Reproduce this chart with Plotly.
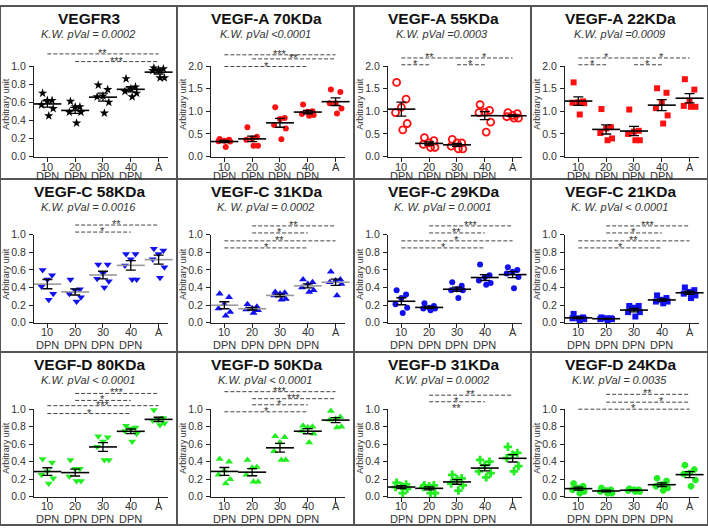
import numpy as np
import plotly.graph_objects as go

# ---------------- data ----------------
group_labels = ["10", "20", "30", "40", "A"]
group_sublabels = ["DPN", "DPN", "DPN", "DPN", ""]

titles = ["VEGFR3", "VEGF-A 70KDa", "VEGF-A 55KDa", "VEGF-A 22KDa",
          "VEGF-C 58KDa", "VEGF-C 31KDa", "VEGF-C 29KDa", "VEGF-C 21KDa",
          "VEGF-D 80KDa", "VEGF-D 50KDa", "VEGF-D 31KDa", "VEGF-D 24KDa"]
pval_texts = ["K.W. pVal = 0.0002", "K.W. pVal <0.0001", "K.W. pVal =0.0003", "K.W. pVal =0.0009",
              "K.W. pVal = 0.0016", "K. W. pVal = 0.0002", "K. W. pVal = 0.0001", "K. W. pVal < 0.0001",
              "K.W. pVal < 0.0001", "K.W. pVal < 0.0001", "K.W. pVal = 0.0002", "K.W. pVal = 0.0035"]
y_top_tick = [1.0, 2.0, 2.0, 2.0, 1.0, 1.0, 1.0, 1.0, 1.0, 1.0, 1.0, 1.0]

vegfr3 = [[0.62, 0.70, 0.62, 0.53, 0.45, 0.57],
          [0.55, 0.61, 0.55, 0.49, 0.49, 0.37],
          [0.74, 0.79, 0.67, 0.60, 0.48, 0.66],
          [0.86, 0.77, 0.75, 0.72, 0.70, 0.66],
          [0.98, 0.97, 0.96, 0.95, 0.87, 0.87]]
vegfa_70 = [[0.37, 0.35, 0.39, 0.21, 0.33, 0.34],
            [0.65, 0.40, 0.44, 0.37, 0.24, 0.24],
            [1.09, 0.85, 0.83, 0.70, 0.62, 0.38],
            [1.15, 1.00, 0.94, 0.92, 0.90, 0.99],
            [1.48, 1.43, 1.18, 1.18, 1.06, 0.95]]
vegfa_55 = [[1.64, 1.27, 1.09, 0.97, 0.73, 0.59],
            [0.42, 0.35, 0.30, 0.27, 0.20, 0.20],
            [0.38, 0.30, 0.30, 0.23, 0.17, 0.17],
            [1.15, 1.02, 0.98, 0.97, 0.76, 0.54],
            [0.95, 0.97, 0.91, 0.88, 0.85, 0.85]]
vegfa_22 = [[1.64, 1.22, 1.20, 1.19, 1.18, 0.93],
            [1.05, 0.65, 0.62, 0.52, 0.40, 0.36],
            [1.04, 0.57, 0.55, 0.50, 0.36, 0.36],
            [1.51, 1.41, 1.19, 1.07, 0.91, 0.73],
            [1.71, 1.48, 1.23, 1.10, 1.10, 1.12]]
vegfc_58 = [[0.60, 0.54, 0.49, 0.41, 0.26, 0.33],
            [0.49, 0.38, 0.37, 0.33, 0.29, 0.24],
            [0.66, 0.66, 0.56, 0.50, 0.47, 0.40],
            [0.78, 0.78, 0.72, 0.65, 0.49, 0.49],
            [0.84, 0.82, 0.78, 0.72, 0.63, 0.51]]
vegfc_31 = [[0.33, 0.29, 0.21, 0.16, 0.12, 0.08],
            [0.21, 0.18, 0.16, 0.15, 0.14, 0.11],
            [0.35, 0.34, 0.33, 0.31, 0.27, 0.26],
            [0.49, 0.46, 0.44, 0.40, 0.37, 0.35],
            [0.58, 0.49, 0.48, 0.46, 0.44, 0.31]]
vegfc_29 = [[0.37, 0.32, 0.28, 0.21, 0.17, 0.11],
            [0.22, 0.19, 0.17, 0.16, 0.16, 0.14],
            [0.46, 0.42, 0.38, 0.37, 0.37, 0.28],
            [0.66, 0.54, 0.52, 0.48, 0.45, 0.43],
            [0.63, 0.60, 0.58, 0.56, 0.52, 0.39]]
vegfc_21 = [[0.10, 0.06, 0.05, 0.05, 0.04, 0.03],
            [0.06, 0.05, 0.05, 0.04, 0.04, 0.03],
            [0.19, 0.19, 0.17, 0.12, 0.12, 0.07],
            [0.31, 0.28, 0.26, 0.24, 0.24, 0.22],
            [0.40, 0.37, 0.35, 0.33, 0.31, 0.28]]
vegfd_80 = [[0.43, 0.39, 0.29, 0.25, 0.21, 0.15],
            [0.42, 0.32, 0.32, 0.23, 0.18, 0.18],
            [0.69, 0.68, 0.63, 0.57, 0.42, 0.42],
            [0.81, 0.79, 0.78, 0.75, 0.72, 0.63],
            [0.99, 0.90, 0.88, 0.87, 0.84, 0.82]]
vegfd_50 = [[0.43, 0.40, 0.30, 0.25, 0.20, 0.15],
            [0.42, 0.34, 0.33, 0.25, 0.17, 0.17],
            [0.69, 0.68, 0.62, 0.52, 0.42, 0.42],
            [0.81, 0.80, 0.79, 0.75, 0.72, 0.62],
            [0.98, 0.91, 0.89, 0.88, 0.80, 0.79]]
vegfd_31 = [[0.16, 0.14, 0.12, 0.11, 0.09, 0.04],
            [0.13, 0.13, 0.12, 0.11, 0.04, 0.04],
            [0.25, 0.21, 0.20, 0.15, 0.13, 0.07],
            [0.42, 0.40, 0.36, 0.29, 0.27, 0.22],
            [0.57, 0.50, 0.48, 0.44, 0.35, 0.29]]
vegfd_24 = [[0.15, 0.12, 0.10, 0.08, 0.06, 0.04],
            [0.10, 0.08, 0.07, 0.06, 0.04, 0.04],
            [0.09, 0.08, 0.08, 0.07, 0.06, 0.06],
            [0.21, 0.18, 0.14, 0.12, 0.10, 0.07],
            [0.36, 0.31, 0.27, 0.26, 0.19, 0.12]]

panel_data = [vegfr3, vegfa_70, vegfa_55, vegfa_22,
              vegfc_58, vegfc_31, vegfc_29, vegfc_21,
              vegfd_80, vegfd_50, vegfd_31, vegfd_24]

# significance comparisons: (group_from, group_to, height, stars, star_pos or None, draw_line)
comparisons = [
    [(0, 4, 1.135, "**", None, True), (1, 4, 1.05, "***", None, True)],
    [(0, 4, 2.25, "***", None, True), (1, 4, 2.16, "**", None, True), (0, 3, 1.99, "*", None, True)],
    [(0, 2, 2.18, "**", None, True), (0, 1, 2.03, "*", None, True), (2, 4, 2.18, "*", None, True), (2, 3, 2.03, "*", None, True)],
    [(0, 2, 2.18, "*", None, True), (0, 1, 2.03, "*", None, True), (2, 4, 2.18, "*", None, True), (2, 3, 2.03, "*", None, True)],
    [(1, 4, 1.11, "**", None, True), (1, 3, 1.03, "*", None, True)],
    [(1, 4, 1.10, "**", None, True), (1, 3, 1.02, "*", None, True), (0, 4, 0.93, "**", None, True), (0, 3, 0.85, "*", None, True)],
    [(1, 4, 1.10, "***", None, True), (1, 3, 1.02, "**", None, True), (0, 4, 0.93, "*", None, True), (0, 3, 0.85, "*", None, True)],
    [(1, 4, 1.10, "***", None, True), (1, 3, 1.02, "*", None, True), (0, 4, 0.93, "**", None, True), (0, 3, 0.85, "*", None, True)],
    [(1, 4, 1.18, "***", None, True), (1, 3, 1.10, "*", None, True), (0, 4, 1.04, "***", None, True), (0, 3, 0.95, "*", None, True)],
    [(0, 4, 1.20, "***", None, True), (1, 4, 1.12, "***", None, True), (1, 3, 1.05, "*", None, True), (0, 3, 0.97, "*", None, True)],
    [(1, 4, 1.16, "**", None, True), (1, 3, 1.085, "*", None, True), (1, 3, 1.0, "**", None, False)],
    [(1, 4, 1.17, "**", None, True), (1, 4, 1.08, "*", 3.0, True), (0, 4, 1.0, "*", None, True)],
]

# ---------------- styles ----------------
RED, BLUE, GREEN = "#ff1010", "#1010f0", "#22ee22"
marker_styles = [
    dict(symbol="star", size=7, color="black"),
    dict(symbol="circle", size=6, color=RED),
    dict(symbol="circle-open", size=7, color=RED, line=dict(width=1.8, color=RED)),
    dict(symbol="square", size=6, color=RED),
    dict(symbol="triangle-down", size=7, color=BLUE),
    dict(symbol="triangle-up", size=7, color=BLUE),
    dict(symbol="circle", size=6, color=BLUE),
    dict(symbol="square", size=6, color=BLUE),
    dict(symbol="triangle-down", size=7, color=GREEN),
    dict(symbol="triangle-up", size=7, color=GREEN),
    dict(symbol="cross", size=7, color=GREEN),
    dict(symbol="octagon", size=7, color=GREEN),
]
mean_colors = ["black", "black", "black", "black", "#9a9a9a", "#9a9a9a",
               "black", "black", "black", "black", "black", "black"]
jitter_by_rank = [-0.17, 0.17, 0.0, -0.21, 0.21, 0.05]

W, H, P = 708, 531, 177
ROW_BOTTOM = [154, 147, 148]
ROW_TICKTOP = [61.5, 57, 58.5]
X_LEFT, X_RIGHT = 34, 167.5
X_RANGE = [-0.48, 4.32]
LBL1 = [165, 157, 158]
LBL2 = [174, 170, 171]
YTITLE_Y = [100, 97, 98]
FONT = "Liberation Sans, Arial, sans-serif"
TXT = "#333333"


def pxx(px):
    return px / W


def pxy(py):
    return 1 - py / H


fig = go.Figure()
annotations = []
shapes = []
layout_axes = {}

for k in range(12):
    r, c = divmod(k, 4)
    n = k + 1
    sfx = "" if n == 1 else str(n)
    xa, ya = "x" + sfx, "y" + sfx
    ox, oy = c * P, r * P
    T = y_top_tick[k]
    groups = panel_data[k]

    xs, ys = [], []
    for g, vals in enumerate(groups):
        order = np.argsort(np.argsort(-np.array(vals)))
        for v, rk in zip(vals, order):
            xs.append(g + jitter_by_rank[rk % len(jitter_by_rank)])
            ys.append(v)
    means = [float(np.mean(v)) for v in groups]
    sems = [float(np.std(v, ddof=1) / np.sqrt(len(v))) for v in groups]

    fig.add_trace(go.Scatter(x=xs, y=ys, mode="markers", marker=marker_styles[k],
                             xaxis=xa, yaxis=ya, cliponaxis=False, showlegend=False,
                             hoverinfo="y"))
    fig.add_trace(go.Scatter(x=list(range(5)), y=means, mode="markers",
                             marker=dict(symbol="line-ew", size=20,
                                         line=dict(width=1.6, color=mean_colors[k])),
                             xaxis=xa, yaxis=ya, cliponaxis=False, showlegend=False,
                             hoverinfo="y"))
    fig.add_trace(go.Scatter(x=list(range(5)), y=means, mode="markers",
                             marker=dict(size=2, color="rgba(0,0,0,0)"),
                             error_y=dict(type="data", array=sems, visible=True,
                                          color="black", thickness=1.3, width=5),
                             xaxis=xa, yaxis=ya, cliponaxis=False, showlegend=False,
                             hoverinfo="skip"))

    step = 0.2 if T == 1.0 else 0.5
    tv = list(np.round(np.arange(0, T + 1e-9, step), 2))
    layout_axes["xaxis" + sfx] = dict(
        domain=[pxx(ox + X_LEFT), pxx(ox + X_RIGHT)], anchor=ya, range=X_RANGE,
        showgrid=False, zeroline=False, showline=True, linecolor="#222", linewidth=1,
        ticks="outside", ticklen=4, tickcolor="#222", tickwidth=1,
        tickvals=list(range(5)), showticklabels=False, fixedrange=True)
    layout_axes["yaxis" + sfx] = dict(
        domain=[pxy(oy + ROW_BOTTOM[r]), pxy(oy + ROW_TICKTOP[r])], anchor=xa,
        range=[0, T], showgrid=False, zeroline=False, showline=True, linecolor="#222",
        linewidth=1, ticks="outside", ticklen=4, tickcolor="#222", tickwidth=1,
        tickvals=tv, ticktext=[f"{v:.1f}" for v in tv],
        tickfont=dict(family=FONT, size=10.5, color=TXT), ticklabelstandoff=1,
        fixedrange=True)

    # titles
    annotations.append(dict(text=f"<b>{titles[k]}</b>", x=pxx(ox + 89), y=pxy(oy + 13),
                            xref="paper", yref="paper", showarrow=False,
                            xanchor="center", yanchor="middle",
                            font=dict(family=FONT, size=15.5, color="#111")))
    annotations.append(dict(text=f"<i>{pval_texts[k]}</i>", x=pxx(ox + 88), y=pxy(oy + 29),
                            xref="paper", yref="paper", showarrow=False,
                            xanchor="center", yanchor="middle",
                            font=dict(family=FONT, size=11, color=TXT)))
    annotations.append(dict(text="Arbitrary unit", x=pxx(ox + 6), y=pxy(oy + YTITLE_Y[r]),
                            xref="paper", yref="paper", showarrow=False, textangle=-90,
                            xanchor="center", yanchor="middle",
                            font=dict(family=FONT, size=9, color=TXT)))
    # category labels
    for g in range(5):
        annotations.append(dict(text=group_labels[g], x=g, y=pxy(oy + LBL1[r]),
                                xref=xa, yref="paper", showarrow=False,
                                xanchor="center", yanchor="middle",
                                font=dict(family=FONT, size=11, color=TXT)))
        if group_sublabels[g]:
            annotations.append(dict(text=group_sublabels[g], x=g, y=pxy(oy + LBL2[r]),
                                    xref=xa, yref="paper", showarrow=False,
                                    xanchor="center", yanchor="middle",
                                    font=dict(family=FONT, size=11, color=TXT)))
    # significance brackets
    for (g0, g1, h, stars, spos, draw) in comparisons[k]:
        yd = h / T
        if draw:
            shapes.append(dict(type="line", xref=xa, yref=ya + " domain",
                               x0=g0, x1=g1, y0=yd, y1=yd,
                               line=dict(color="#444", width=1, dash="4px,2px")))
        sx = (g0 + g1) / 2 if spos is None else spos
        annotations.append(dict(text=stars, x=sx, y=yd, xref=xa, yref=ya + " domain",
                                showarrow=False, xanchor="center", yanchor="middle",
                                yshift=1, font=dict(family=FONT, size=11, color=TXT)))

# panel borders
for x in [0, 177, 354, 531, 708]:
    shapes.append(dict(type="line", xref="paper", yref="paper", x0=pxx(x), x1=pxx(x),
                       y0=0, y1=1, line=dict(color="#555", width=2)))
for y in [0, 177, 354, 531]:
    shapes.append(dict(type="line", xref="paper", yref="paper", x0=0, x1=1,
                       y0=pxy(y), y1=pxy(y), line=dict(color="#555", width=2)))

fig.update_layout(width=W, height=H, autosize=False,
                  margin=dict(l=0, r=0, t=0, b=0),
                  paper_bgcolor="white", plot_bgcolor="white",
                  annotations=annotations, shapes=shapes, showlegend=False,
                  **layout_axes)

fig.write_html("out.html", config={"displayModeBar": False},
               post_script="document.body.style.margin='0';document.body.style.overflow='hidden';")
